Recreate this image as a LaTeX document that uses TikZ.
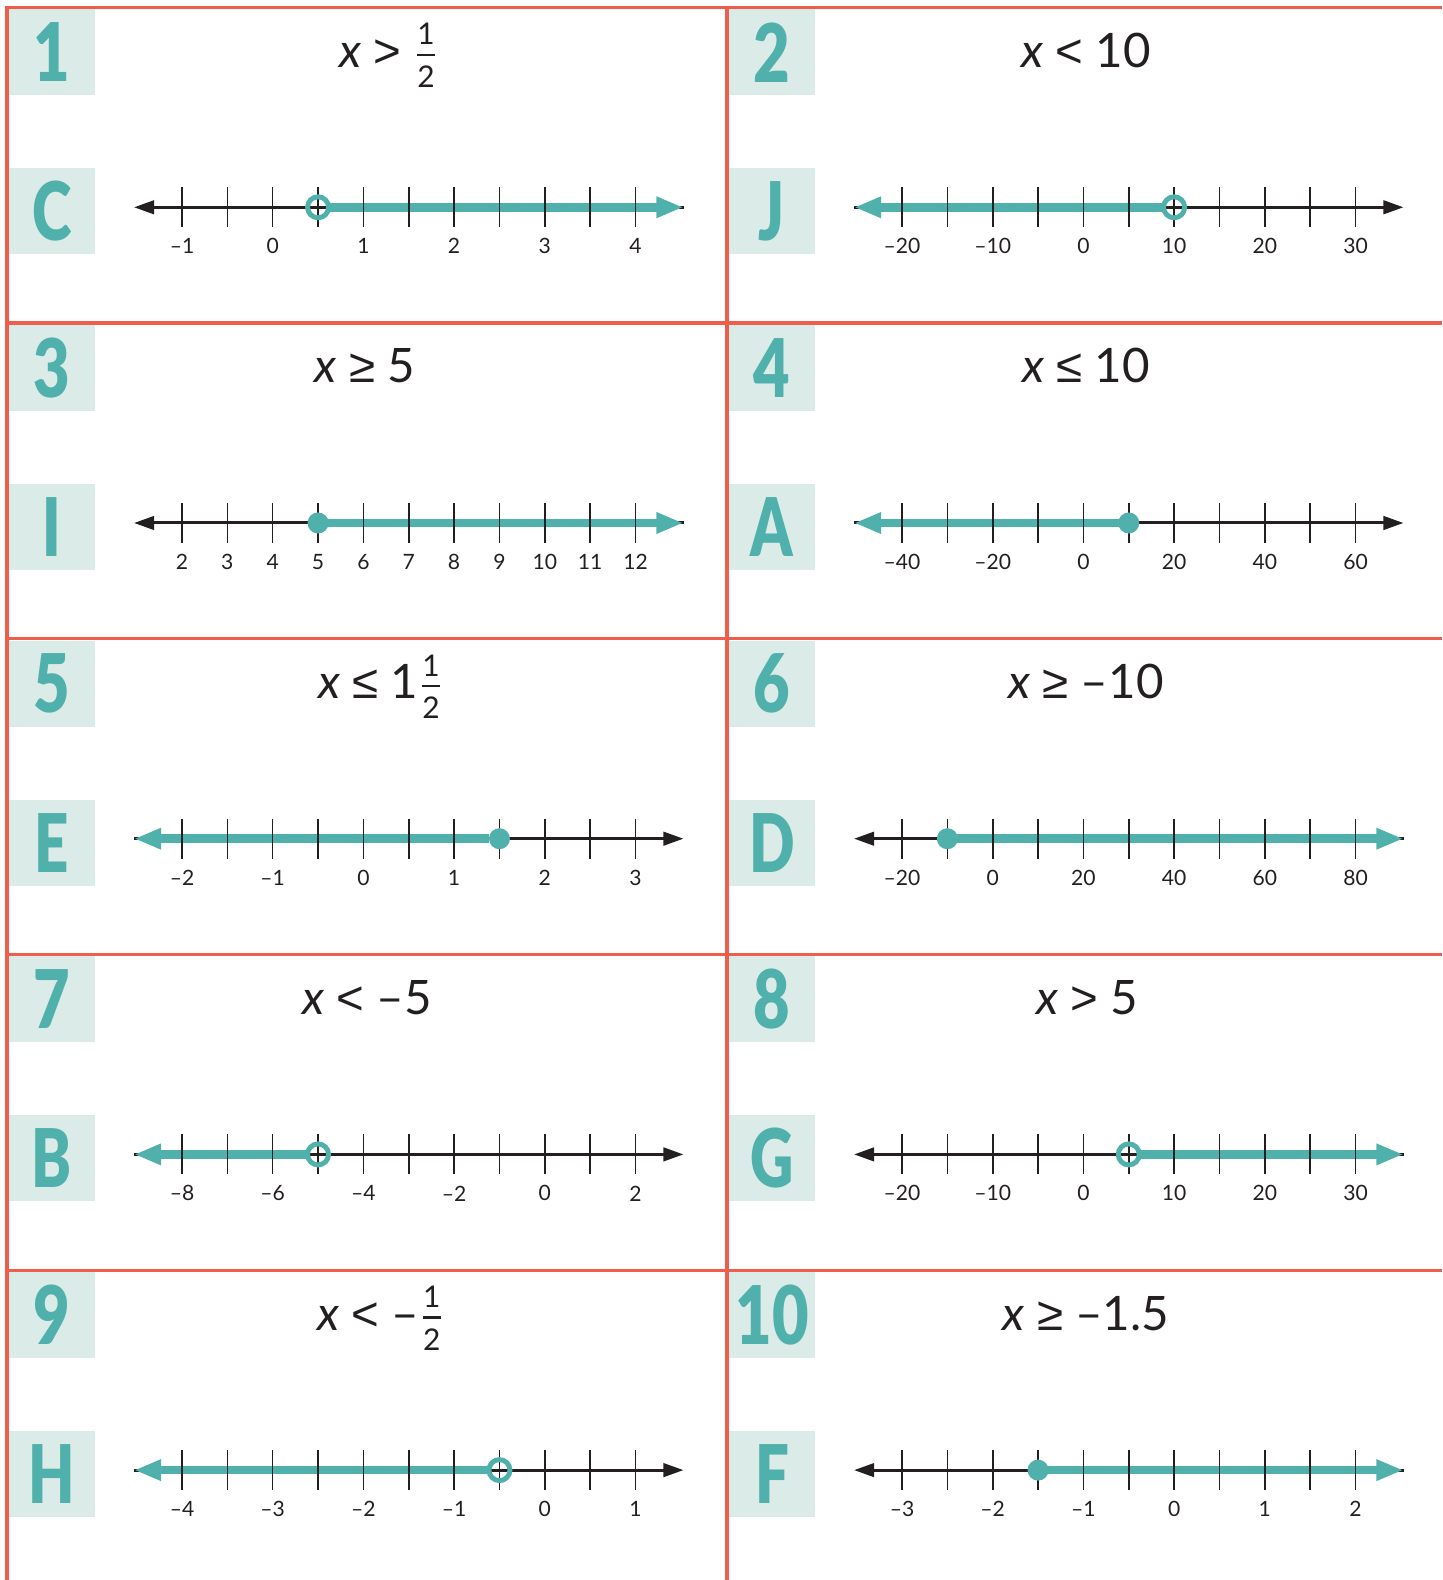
\documentclass[tikz,border=0pt]{standalone}
\usepackage{amsmath}
\usepackage{fontspec}
\usepackage{graphicx}
\setmainfont{Lato}
\newfontfamily\relfont{Liberation Sans}
\IfFontExistsTF{Lato Black}{\newfontfamily\tagfont{Lato Black}}{\newcommand{\tagfont}{\bfseries}}
\usetikzlibrary{arrows.meta}

\definecolor{gridred}{RGB}{238,94,74}
\definecolor{lineteal}{RGB}{80,176,172}
\definecolor{boxteal}{RGB}{218,235,232}
\definecolor{ink}{RGB}{35,31,32}

% small stacked fraction in the text font
\newcommand{\fracsf}[2]{$\genfrac{}{}{0.6pt}{}{\hbox{\fontsize{8.5}{9}\selectfont\raisebox{0.7pt}{#1}}}{\hbox{\fontsize{8.5}{9}\selectfont\raisebox{-0.7pt}{#2}}}$}
% relation signs with a flat bar
\newcommand{\relsym}[1]{{\relfont #1}}

\begin{document}
\begin{tikzpicture}[x=0.01cm, y=-0.01cm,
    border/.style={draw=gridred, line width=0.9pt},
    tagbox/.style={fill=boxteal, text=lineteal, minimum width=0.85cm, minimum height=0.86cm, inner sep=0pt, font=\fontsize{23}{23}\selectfont\tagfont},
    ineq/.style={anchor=base, inner sep=0pt, text=ink, font=\fontsize{13.5}{16}\selectfont},
    axis/.style={draw=ink, line width=0.85pt, -{Triangle[length=5.7pt, width=3.8pt]}},
    ray/.style={draw=lineteal, line width=2.4pt, shorten <=0.1cm, -{Triangle[length=7.7pt, width=5.6pt]}},
    tick/.style={draw=ink, line width=0.45pt},
    ticklabel/.style={inner sep=0pt, text=ink, font=\fontsize{6}{7}\selectfont},
    openpt/.style={circle, draw=lineteal, line width=1.4pt, minimum size=0.21cm, inner sep=0pt},
    dotpt/.style={circle, fill=lineteal, minimum size=0.21cm, inner sep=0pt}]
    \useasboundingbox (0,0) rectangle (1442,1580);

    % grid of cells
    \draw[border] (7,1580) -- (7,7.3) -- (1442,7.3);
    \foreach \row in {1,...,4}
        \draw[border] (7,{7.3+315.7*\row}) -- (1442,{7.3+315.7*\row});
    \draw[border] (727,7.3) -- (727,1580);

    % one cell per inequality
    \foreach \n/\col/\row/\ans/\ineq/\ex/\k/\dir/\pt/\lstep/\labs in {
        1/0/0/C/{\textit{x} \relsym{>} \fracsf{1}{2}}/382/3/1/openpt/2/{–1,0,1,2,3,4},
        2/1/0/J/{\textit{x} \relsym{<} 10}/359/6/-1/openpt/2/{–20,–10,0,10,20,30},
        3/0/1/I/{\textit{x} \relsym{≥} 5}/358/3/1/dotpt/1/{2,3,4,5,6,7,8,9,10,11,12},
        4/1/1/A/{\textit{x} \relsym{≤} 10}/359/5/-1/dotpt/2/{–40,–20,0,20,40,60},
        5/0/2/E/{\textit{x} \relsym{≤} 1\fracsf{1}{2}}/374/7/-1/dotpt/2/{–2,–1,0,1,2,3},
        6/1/2/D/{\textit{x} \relsym{≥} –10}/359/1/1/dotpt/2/{–20,0,20,40,60,80},
        7/0/3/B/{\textit{x} \relsym{<} –5}/360/3/-1/openpt/2/{–8,–6,–4,–2,0,2},
        8/1/3/G/{\textit{x} \relsym{>} 5}/360/5/1/openpt/2/{–20,–10,0,10,20,30},
        9/0/4/H/{\textit{x} \relsym{<} –\fracsf{1}{2}}/374/7/-1/openpt/2/{–4,–3,–2,–1,0,1},
        10/1/4/F/{\textit{x} \relsym{≥} –1.5}/359/3/1/dotpt/2/{–3,–2,–1,0,1,2}} {
        \pgfmathsetmacro{\X}{7+720*\col}
        \pgfmathsetmacro{\Y}{7.3+315.7*\row}
        \pgfmathsetmacro{\M}{\X+175+5*45.35}
        \node[tagbox] (tag\n) at ({\X+45},{\Y+45}) {\scalebox{0.78}[1]{\n}};
        \node[tagbox] (ans\n) at ({\X+45},{\Y+204}) {\scalebox{0.74}[1]{\ans}};
        \node[ineq] (ineq\n) at ({\X+\ex},{\Y+60}) {\ineq};
        \coordinate (t\n) at ({\M+\dir*274.75},{\Y+200});
        \coordinate (b\n) at ({\M-\dir*274.75},{\Y+200});
        \coordinate (p\n) at ({\X+175+45.35*\k},{\Y+200});
        \draw[axis] (t\n) -- (b\n);
        \draw[ray] (p\n) -- (t\n);
        \foreach \i in {0,...,10}
            \draw[tick] ({\X+175+45.35*\i},{\Y+180}) -- ({\X+175+45.35*\i},{\Y+220});
        \foreach \t [count=\j from 0] in \labs
            \node[ticklabel] (lab\n-\j) at ({\X+175+45.35*\lstep*\j},{\Y+239}) {\t};
        \node[\pt] (pt\n) at (p\n) {};
    }
\end{tikzpicture}
\end{document}
